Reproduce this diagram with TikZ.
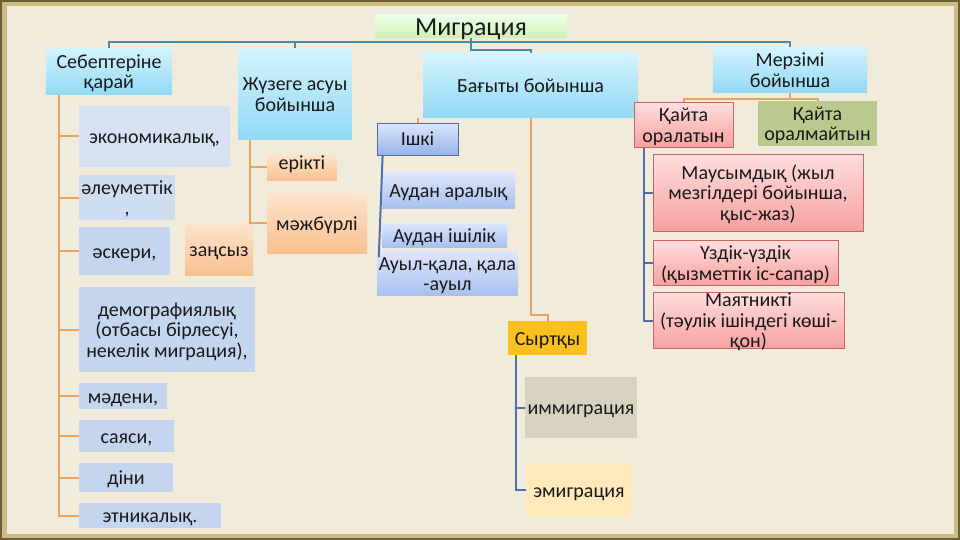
\documentclass[tikz,border=0pt]{standalone}
\usepackage{fontspec}
\setmainfont{Carlito}
\usepackage{tikz}

\definecolor{parch}{RGB}{241,235,220}
\definecolor{frameA}{RGB}{110,95,55}
\definecolor{frameB}{RGB}{205,188,130}
\definecolor{tealln}{RGB}{75,140,160}
\definecolor{orln}{RGB}{232,165,95}
\definecolor{blln}{RGB}{80,110,170}
\definecolor{hdtop}{RGB}{212,243,252}
\definecolor{hdbot}{RGB}{145,217,245}
\definecolor{lsta}{RGB}{214,225,241}
\definecolor{lstb}{RGB}{196,214,239}
\definecolor{pchtop}{RGB}{253,228,205}
\definecolor{pchbot}{RGB}{249,192,143}
\definecolor{bltop}{RGB}{222,230,251}
\definecolor{blbot}{RGB}{168,192,240}
\definecolor{pktop}{RGB}{255,222,222}
\definecolor{pkbot}{RGB}{246,160,160}
\definecolor{pkdraw}{RGB}{200,100,100}

% line struts
\newcommand{\ts}{\rule{0pt}{18pt}}
\newcommand{\bs}{\rule[-4pt]{0pt}{4pt}}

\tikzset{
  txt/.style={font=\fontsize{20}{20.5}\selectfont, align=center, inner sep=1pt, text=black!90, rectangle},
  pad/.style={execute at begin node=\ts, execute at end node=\bs},
  box/.style={txt, pad},
  headbox/.style={box, top color=hdtop, bottom color=hdbot},
  listbox/.style={box, fill=lstb},
  peachbox/.style={box, top color=pchtop, bottom color=pchbot},
  bluebox/.style={box, top color=bltop, bottom color=blbot},
  pinkfill/.style={top color=pktop, bottom color=pkbot, draw=pkdraw, line width=0.8pt},
  pinkbox/.style={box, pinkfill},
  tealline/.style={draw=tealln, line width=2pt},
  orline/.style={draw=orln, line width=2pt},
  blline/.style={draw=blln, line width=2pt}
}

\begin{document}
\begin{tikzpicture}[x=1pt,y=-1pt]
  % frame and paper
  \fill[frameA] (0,0) rectangle (960,540);
  \fill[frameB] (2,2) rectangle (958,538);
  \fill[parch] (7,6) rectangle (954,534);
  \useasboundingbox (0,0) rectangle (960,540);

  % title and headers
  \node[txt, top color=green!8, bottom color={rgb,255:red,205;green,240;blue,180},
        minimum width=192pt, minimum height=23pt,
        text height=20pt, text depth=1pt, font=\fontsize{26}{28}\selectfont] (title) at (471,26.5) {Миграция};
  \node[headbox, minimum width=126pt, minimum height=47pt] (seb) at (109,71.5) {\ts Себептеріне\\қарай\bs};
  \node[headbox, minimum width=114pt, minimum height=92pt] (zhu) at (295,94) {\ts Жүзеге асуы\\бойынша\bs};
  \node[headbox, minimum width=215pt, minimum height=65pt] (bag) at (530.5,85.5) {Бағыты бойынша};
  \node[headbox, minimum width=154pt, minimum height=46pt] (mer) at (790,70) {\ts Мерзімі\\бойынша\bs};

  % causes
  \node[listbox, fill=lsta, minimum width=151pt, minimum height=61pt] (econ) at (154.5,136.5) {экономикалық,};
  \node[listbox, fill=lsta!60!lstb, minimum width=96pt, minimum height=39pt] (soc) at (127,197.5) {\ts әлеуметтік\\,\bs};
  \node[listbox, minimum width=91pt, minimum height=48pt] (mil) at (124.5,251) {әскери,};
  \node[listbox, minimum width=176pt, minimum height=85pt] (dem) at (167,329.5) {\ts демографиялық\\(отбасы бірлесуі,\\некелік миграция),\bs};
  \node[listbox, minimum width=88pt, minimum height=26pt] (cult) at (123,396) {мәдени,};
  \node[listbox, minimum width=95pt, minimum height=32pt] (pol) at (126.5,436) {саяси,};
  \node[listbox, minimum width=94pt, minimum height=29pt] (rel) at (126,477.5) {діни};
  \node[listbox, minimum width=142pt, minimum height=25pt] (etn) at (150,515.5) {этникалық.};

  % realisation
  \node[txt, top color=pchtop, bottom color=pchbot, minimum width=70pt, minimum height=25pt] (erik) at (302,167.5) {ерікті\rule[-10pt]{0pt}{10pt}};
  \node[peachbox, minimum width=100pt, minimum height=60pt] (mazh) at (317,223) {мәжбүрлі};
  \node[peachbox, minimum width=68pt, minimum height=52pt] (zan) at (219,249) {заңсыз};

  % direction
  \node[bluebox, draw={rgb,255:red,85;green,105;blue,155}, line width=0.8pt,
        bottom color={rgb,255:red,150;green,178;blue,236},
        minimum width=81pt, minimum height=32pt] (ishki) at (417.5,139) {Ішкі};
  \node[bluebox, minimum width=133pt, minimum height=35pt] (aar) at (448.5,190.5) {Аудан аралық};
  \node[bluebox, minimum width=125pt, minimum height=24pt] (aish) at (444.5,235) {Аудан ішілік};
  \node[bluebox, minimum width=141pt, minimum height=43pt] (aul) at (447.5,273.5) {\ts Ауыл-қала, қала\\-ауыл\bs};
  \node[box, fill={rgb,255:red,250;green,192;blue,28}, minimum width=79pt, minimum height=34pt] (syrt) at (547.5,338) {Сыртқы};
  \node[box, fill={rgb,255:red,216;green,211;blue,192}, minimum width=112pt, minimum height=61pt] (imm) at (581,407.5) {иммиграция};
  \node[box, fill={rgb,255:red,255;green,232;blue,186}, minimum width=106pt, minimum height=54pt] (emig) at (579,490) {эмиграция};

  % duration
  \node[pinkbox, minimum width=99pt, minimum height=42pt] (ret) at (683.5,125) {\ts Қайта\\оралатын\bs};
  \node[box, fill={rgb,255:red,186;green,201;blue,142}, minimum width=119pt, minimum height=39pt] (nonret) at (817.5,123.5) {\ts Қайта\\оралмайтын\bs};
  \node[pinkbox, minimum width=210pt, minimum height=77pt] (maus) at (758,192.5) {\ts Маусымдық (жыл\\мезгілдері бойынша,\\қыс-жаз)\bs};
  \node[pinkbox, minimum width=185pt, minimum height=42pt] (uzd) at (745.5,263) {\ts Үздік-үздік\\(қызметтік іс-сапар)\bs};
  \node[txt, pinkfill, minimum width=191pt, minimum height=53pt] (mayat) at (748.5,320.5) {\rule{0pt}{11.5pt}Маятникті\\(тәулік ішіндегі көші-\\\smash{қон)}};

  % top connectors
  \coordinate (bus) at (471,42);
  \draw[tealline] (seb.north) |- (bus) -| (mer.north);
  \draw[tealline] (zhu.north) -- (zhu.north |- bus);
  \draw[tealline] (title.south) -- (bus) -- ++(0,8) -| (bag.north);

  % causes
  \coordinate (sspine) at ([xshift=13pt]seb.south west);
  \draw[orline] (sspine) |- (etn.west);
  \foreach \n in {econ,soc,mil,dem,cult,pol,rel}
    \draw[orline] (\n.west) -- (\n.west -| sspine);

  % realisation
  \coordinate (zspine) at ([xshift=12pt]zhu.south west);
  \draw[orline] (zspine) |- (mazh.west);
  \draw[orline] (erik.west) -- (erik.west -| zspine);

  % direction
  \draw[orline] (ishki.north) -- (ishki.north |- bag.south);
  \draw[orline] (bag.south) -- ++(0,197) -| (syrt.north);
  \draw[blline] ([xshift=6pt]ishki.south west) -- ([xshift=2pt,yshift=-6pt]aul.north west);
  \coordinate (yspine) at ([xshift=8pt]syrt.south west);
  \draw[blline] (yspine) |- (emig.west);
  \draw[blline] (imm.west) -- (imm.west -| yspine);

  % duration
  \coordinate (mbus) at ([yshift=-6pt]mer.south);
  \draw[orline] (mer.south) -- (mbus);
  \draw[orline] (ret.north) |- (mbus) -| (nonret.north);
  \coordinate (rspine) at ([xshift=10pt]ret.south west);
  \draw[blline] (rspine) |- (mayat.west);
  \foreach \n in {maus,uzd}
    \draw[blline] (\n.west) -- (\n.west -| rspine);
\end{tikzpicture}
\end{document}
